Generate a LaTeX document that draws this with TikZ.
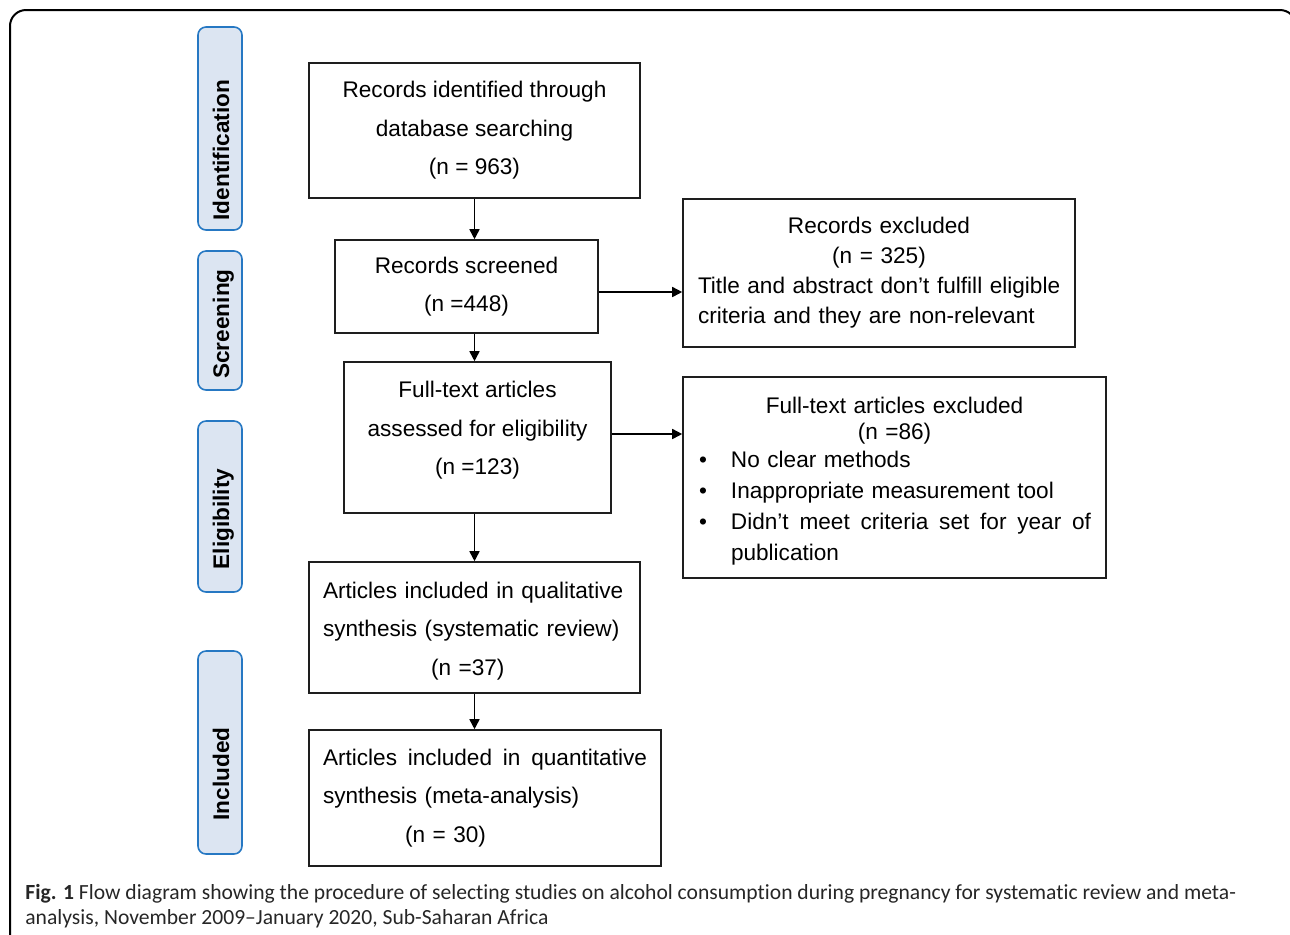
\documentclass[tikz,border=0pt]{standalone}
\usepackage{fontspec}
\setmainfont{Liberation Sans}
\newfontfamily\captionfont[Ligatures={TeX,NoCommon}]{Carlito}
\usetikzlibrary{arrows.meta}
\definecolor{phasefill}{RGB}{220,229,242}
\definecolor{phaseline}{RGB}{38,120,195}
\definecolor{boxline}{RGB}{30,30,30}
\newcommand{\flowfont}{\fontsize{11.3}{19.3}\selectfont}
% justified line of a given width
\newcommand{\spreadline}[2]{{\spaceskip=0pt\xspaceskip=0pt\makebox[#1][s]{#2}}}
\newcommand{\bulletmark}{\makebox[16.5pt][l]{\hspace*{0.5pt}\textbullet}}

\begin{document}
\begin{tikzpicture}[x=0.5pt, y=-0.5pt,
  flowbox/.style={draw=boxline, line width=0.8pt, inner sep=0pt, align=center, font=\flowfont},
  phasebox/.style={draw=phaseline, fill=phasefill, line width=0.8pt, rounded corners=4pt, minimum width=22pt, inner sep=0pt},
  phaselabel/.style={rotate=90, font=\flowfont\bfseries, inner sep=0pt, text height=8.2pt, text depth=0pt},
  arr/.style={-{Triangle[length=5pt, width=5pt]}, line width=0.8pt, draw=black}]
  \useasboundingbox (0,0) rectangle (1290,934);

  % Outer frame
  \draw[line width=1pt, rounded corners=8pt] (10,940) -- (10,10) -- (1296,10) -- (1296,40);

  % Phase labels
  \node[phasebox, minimum height=101.5pt] (identbar) at (220,128.5) {};
  \node[phaselabel] (identtxt) at (221,150) {Identification};
  \node[phasebox, minimum height=69.5pt] (screenbar) at (220,320.5) {};
  \node[phaselabel] (screentxt) at (221,324) {Screening};
  \node[phasebox, minimum height=85.5pt] (eligbar) at (220,506.5) {};
  \node[phaselabel] (eligtxt) at (221,519) {Eligibility};
  \node[phasebox, minimum height=101.5pt] (inclbar) at (220,752.5) {};
  \node[phaselabel] (incltxt) at (221,774) {Included};

  % Main column
  \node[flowbox, minimum width=165.5pt, minimum height=67.5pt] (ident) at (474.5,130.5)
    {Records identified through\\database searching\\(n = 963)};
  \node[flowbox, minimum width=131.5pt, minimum height=46.5pt] (screen) at (466.5,286.5)
    {Records screened\\(n =448)};
  \node[flowbox, minimum width=133.5pt, minimum height=75.5pt] (assess) at (477.5,437.5)
    {Full-text articles\\assessed for eligibility\\(n =123)\rule[-9.5pt]{0pt}{1pt}};
  \node[flowbox, align=left, text width=151.5pt, minimum height=65.5pt, inner xsep=7pt] (qual) at (474.5,627.5)
    {\rule{0pt}{11.5pt}Articles included in qualitative\\synthesis (systematic review)\\\hspace*{54pt}(n =37)};
  \node[flowbox, align=left, text width=162pt, minimum height=68pt, inner xsep=7pt] (quant) at (485,798)
    {\spreadline{162pt}{Articles included in quantitative}\\synthesis (meta-analysis)\\\hspace*{41pt}(n = 30)};

  % Exclusions
  \node[flowbox, text width=181pt, minimum height=74pt, inner xsep=7.5pt,
        font=\fontsize{11.3}{15}\selectfont] (excl) at (879,273)
    {Records excluded\\(n = 325)\\
     \makebox[181pt][l]{Title and abstract don’t fulfill eligible}\\
     \makebox[181pt][l]{criteria and they are non-relevant}};
  \node[flowbox, text width=196.5pt, minimum height=100.5pt, inner xsep=7.5pt,
        font=\fontsize{11.3}{15.5}\selectfont] (ftexcl) at (894.5,477.5)
    {\rule{0pt}{12.3pt}Full-text articles excluded\\[-2.5pt](n =86)\\[-1.5pt]
     \makebox[196.5pt][l]{\bulletmark No clear methods}\\
     \makebox[196.5pt][l]{\bulletmark Inappropriate measurement tool}\\
     \makebox[196.5pt][l]{\bulletmark\spreadline{180pt}{Didn’t meet criteria set for year of}}\\
     \makebox[196.5pt][l]{\hspace*{16.5pt}publication}};

  % Connectors
  \draw[arr] (ident.south) -- (ident.south |- screen.north);
  \draw[arr] (ident.south |- screen.south) -- (ident.south |- assess.north);
  \draw[arr] (qual.north |- assess.south) -- (qual.north);
  \draw[arr] (qual.south) -- (qual.south |- quant.north);
  \draw[arr] ([yshift=-2.75pt]screen.east) -- ([yshift=-2.75pt]screen.east -| excl.west);
  \draw[arr] ([yshift=1.75pt]assess.east) -- ([yshift=1.75pt]assess.east -| ftexcl.west);

  % Caption
  \node[anchor=north west, inner sep=0pt, align=left, text=black!85,
        font=\captionfont\fontsize{10.8}{12.5}\selectfont] (caption) at (25,884)
    {\textbf{Fig. 1} Flow diagram showing the procedure of selecting studies on alcohol consumption during pregnancy for systematic review and meta-\\analysis, November 2009–January 2020, Sub-Saharan Africa};
\end{tikzpicture}
\end{document}
